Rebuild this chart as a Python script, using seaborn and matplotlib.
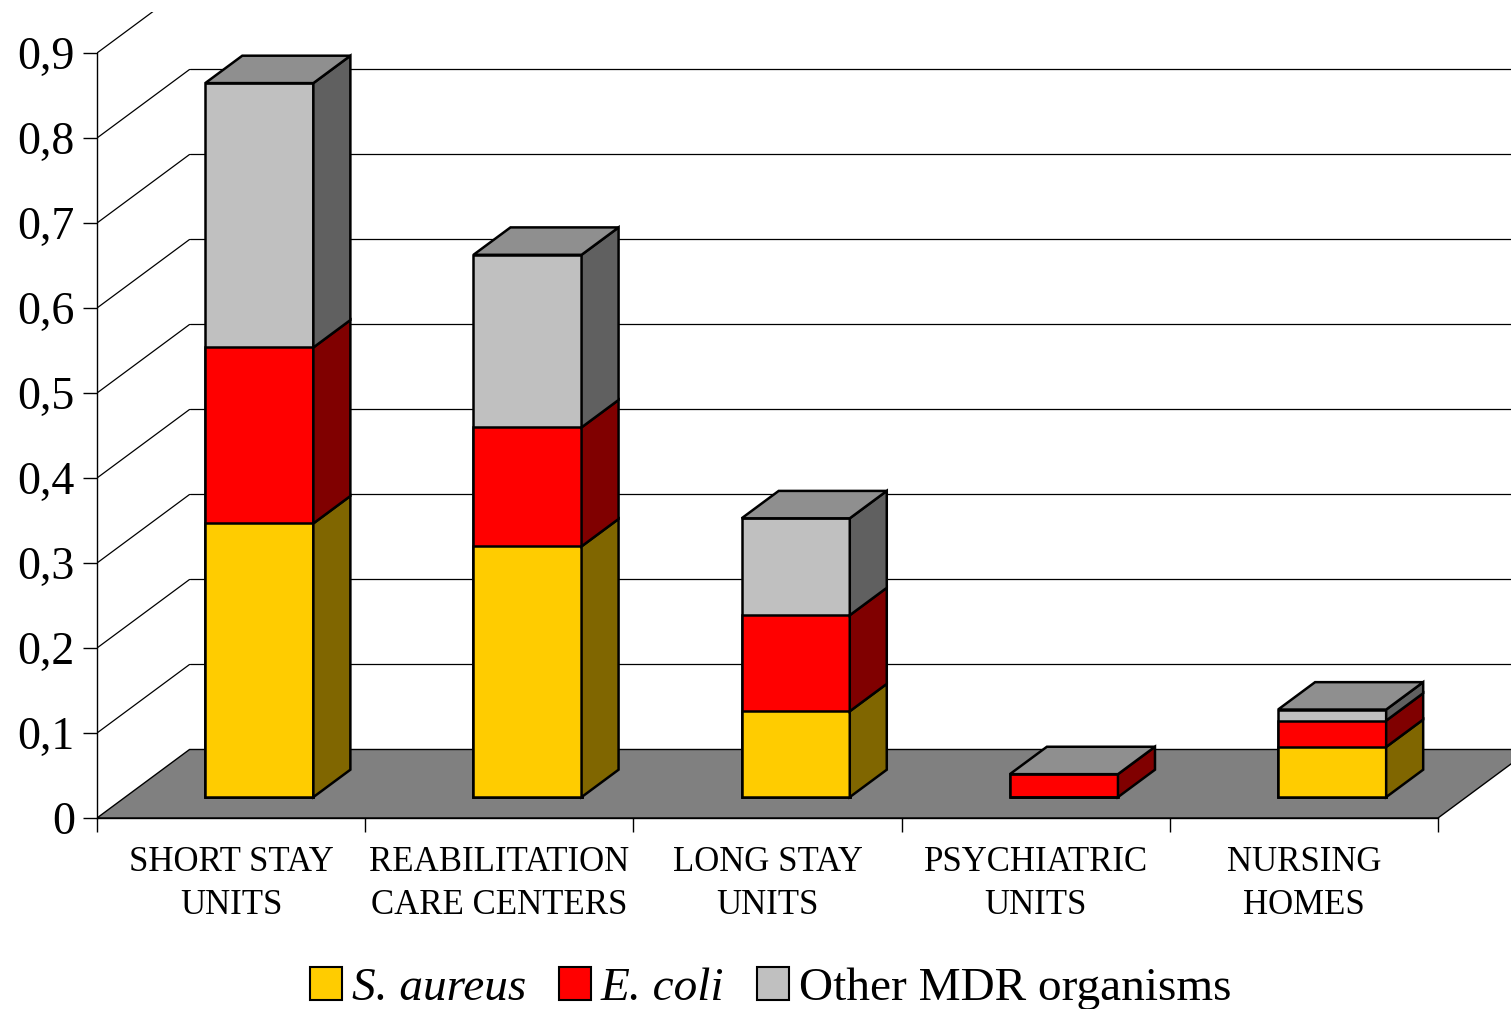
import numpy as np
import matplotlib
matplotlib.use("Agg")
import matplotlib.pyplot as plt
from matplotlib.patches import Polygon, Patch
from matplotlib.transforms import Affine2D
import seaborn as sns

# ---- data -------------------------------------------------------------
categories = [
    "SHORT STAY\nUNITS",
    "REABILITATION\nCARE CENTERS",
    "LONG STAY\nUNITS",
    "PSYCHIATRIC\nUNITS",
    "NURSING\nHOMES",
]
s_aureus = [0.322, 0.295, 0.101, 0.0, 0.059]
e_coli = [0.207, 0.140, 0.113, 0.027, 0.031]
other_mdr = [0.311, 0.203, 0.114, 0.0, 0.013]
series_names = ["S. aureus", "E. coli", "Other MDR organisms"]

y_ticks = [0, 0.1, 0.2, 0.3, 0.4, 0.5, 0.6, 0.7, 0.8, 0.9]
y_tick_labels = ["0", "0,1", "0,2", "0,3", "0,4", "0,5", "0,6", "0,7", "0,8", "0,9"]

# ---- style ------------------------------------------------------------
front_colors = ["#FFCC00", "#FF0000", "#C0C0C0"]
side_colors = ["#806600", "#800000", "#606060"]
top_color = "#8F8F8F"
floor_color = "#808080"

sns.set_theme(style="white")
plt.rcParams["font.family"] = ["Liberation Serif", "DejaVu Serif"]
plt.rcParams["text.color"] = "black"

W, H = 1511, 1009
fig = plt.figure(figsize=(W / 100, H / 100), dpi=100)
ax = fig.add_axes([97 / W, (H - 818) / H, (W - 97) / W, (818 - 12) / H])

# oblique depth of the floor / walls, in (category, value) units
DEPTH_X = 0.345
DEPTH_Y = 0.0806
BAR_FRONT = 0.305   # where the bar front sits inside the floor depth
BAR_DEPTH = 0.40    # bar thickness as a share of the floor depth
BAR_WIDTH = 0.403
EDGE_LW = 1.8

XMIN, XMAX = -0.5, -0.5 + (W - 97) / 268.2
YMIN, YMAX = 0.0, (818 - 12) / 850.0

bar_shift = Affine2D().translate(BAR_FRONT * DEPTH_X, BAR_FRONT * DEPTH_Y) + ax.transData

# ---- stacked front faces (drawn as overlapping cumulative bars) -------
seg_a = np.array(s_aureus)
seg_b = np.array(e_coli)
seg_c = np.array(other_mdr)
levels = [seg_a, seg_a + seg_b, seg_a + seg_b + seg_c]

front_patches = None
for level, color in zip(reversed(levels), reversed(front_colors)):
    n_before = len(ax.patches)
    sns.barplot(x=categories, y=level, color=color, saturation=1,
                width=BAR_WIDTH, edgecolor="black", linewidth=EDGE_LW,
                errorbar=None, ax=ax, zorder=3)
    new = ax.patches[n_before:]
    for p in new:
        p.set_transform(bar_shift)
    if front_patches is None:
        front_patches = list(new)

# ---- side and top faces -----------------------------------------------
bdx = BAR_DEPTH * DEPTH_X
bdy = BAR_DEPTH * DEPTH_Y
bounds = [np.zeros(len(categories))] + levels
for i, p in enumerate(front_patches):
    x0 = p.get_x()
    x1 = x0 + p.get_width()
    for k in range(3):
        lo, hi = bounds[k][i], bounds[k + 1][i]
        if hi <= lo:
            continue
        side = Polygon([(x1, lo), (x1 + bdx, lo + bdy), (x1 + bdx, hi + bdy), (x1, hi)],
                       closed=True, facecolor=side_colors[k], edgecolor="black",
                       linewidth=EDGE_LW, joinstyle="miter", transform=bar_shift, zorder=3)
        ax.add_patch(side)
    t = levels[-1][i]
    top = Polygon([(x0, t), (x0 + bdx, t + bdy), (x1 + bdx, t + bdy), (x1, t)],
                  closed=True, facecolor=top_color, edgecolor="black",
                  linewidth=EDGE_LW, joinstyle="miter", transform=bar_shift, zorder=3)
    ax.add_patch(top)

# ---- floor and walls --------------------------------------------------
n_cat = len(categories)
floor = Polygon([(-0.5, 0), (n_cat - 0.5, 0), (n_cat - 0.5 + DEPTH_X, DEPTH_Y),
                 (-0.5 + DEPTH_X, DEPTH_Y)], closed=True, facecolor=floor_color,
                edgecolor="black", linewidth=1.0, zorder=1)
ax.add_patch(floor)
for v in y_ticks[1:]:
    ax.plot([-0.5 + DEPTH_X, XMAX], [v + DEPTH_Y, v + DEPTH_Y],
            color="black", linewidth=0.9, zorder=0.8)
for v in y_ticks[1:]:
    ax.plot([-0.5, -0.5 + DEPTH_X], [v, v + DEPTH_Y],
            color="black", linewidth=0.9, zorder=0.8)

# ---- axes -------------------------------------------------------------
ax.set_xlim(XMIN, XMAX)
ax.set_ylim(YMIN, YMAX)
ax.set_xlabel("")
ax.set_ylabel("")
ax.patch.set_alpha(0)

for side in ("top", "right"):
    ax.spines[side].set_visible(False)
for side in ("left", "bottom"):
    ax.spines[side].set_color("black")
    ax.spines[side].set_linewidth(1.0)
ax.spines["left"].set_bounds(0, 0.9)
ax.spines["bottom"].set_bounds(-0.5, n_cat - 0.5)

ax.set_yticks(y_ticks)
ax.set_yticklabels(y_tick_labels)
ax.tick_params(axis="y", left=True, length=10, width=1, pad=6, color="black",
               labelsize=33, labelcolor="black")

ax.set_xticks(range(n_cat))
ax.set_xticklabels(categories, linespacing=1.4)
ax.set_xticks(np.arange(-0.5, n_cat, 1.0), minor=True)
ax.tick_params(axis="x", which="major", bottom=True, length=0, pad=20,
               labelsize=25, labelcolor="black")
ax.tick_params(axis="x", which="minor", bottom=True, length=10, width=1, color="black")

# ---- legend -----------------------------------------------------------
handles = [Patch(facecolor=c, edgecolor="black", linewidth=1.5) for c in front_colors]
leg = fig.legend(handles, series_names, loc="center", bbox_to_anchor=(0.51, 0.020),
                 ncol=3, frameon=False, fontsize=34, handlelength=0.68,
                 handleheight=0.68, handletextpad=0.2, columnspacing=0.7,
                 borderpad=0, borderaxespad=0)
for txt in leg.get_texts()[:2]:
    txt.set_style("italic")

fig.savefig("out.png", dpi=100)
